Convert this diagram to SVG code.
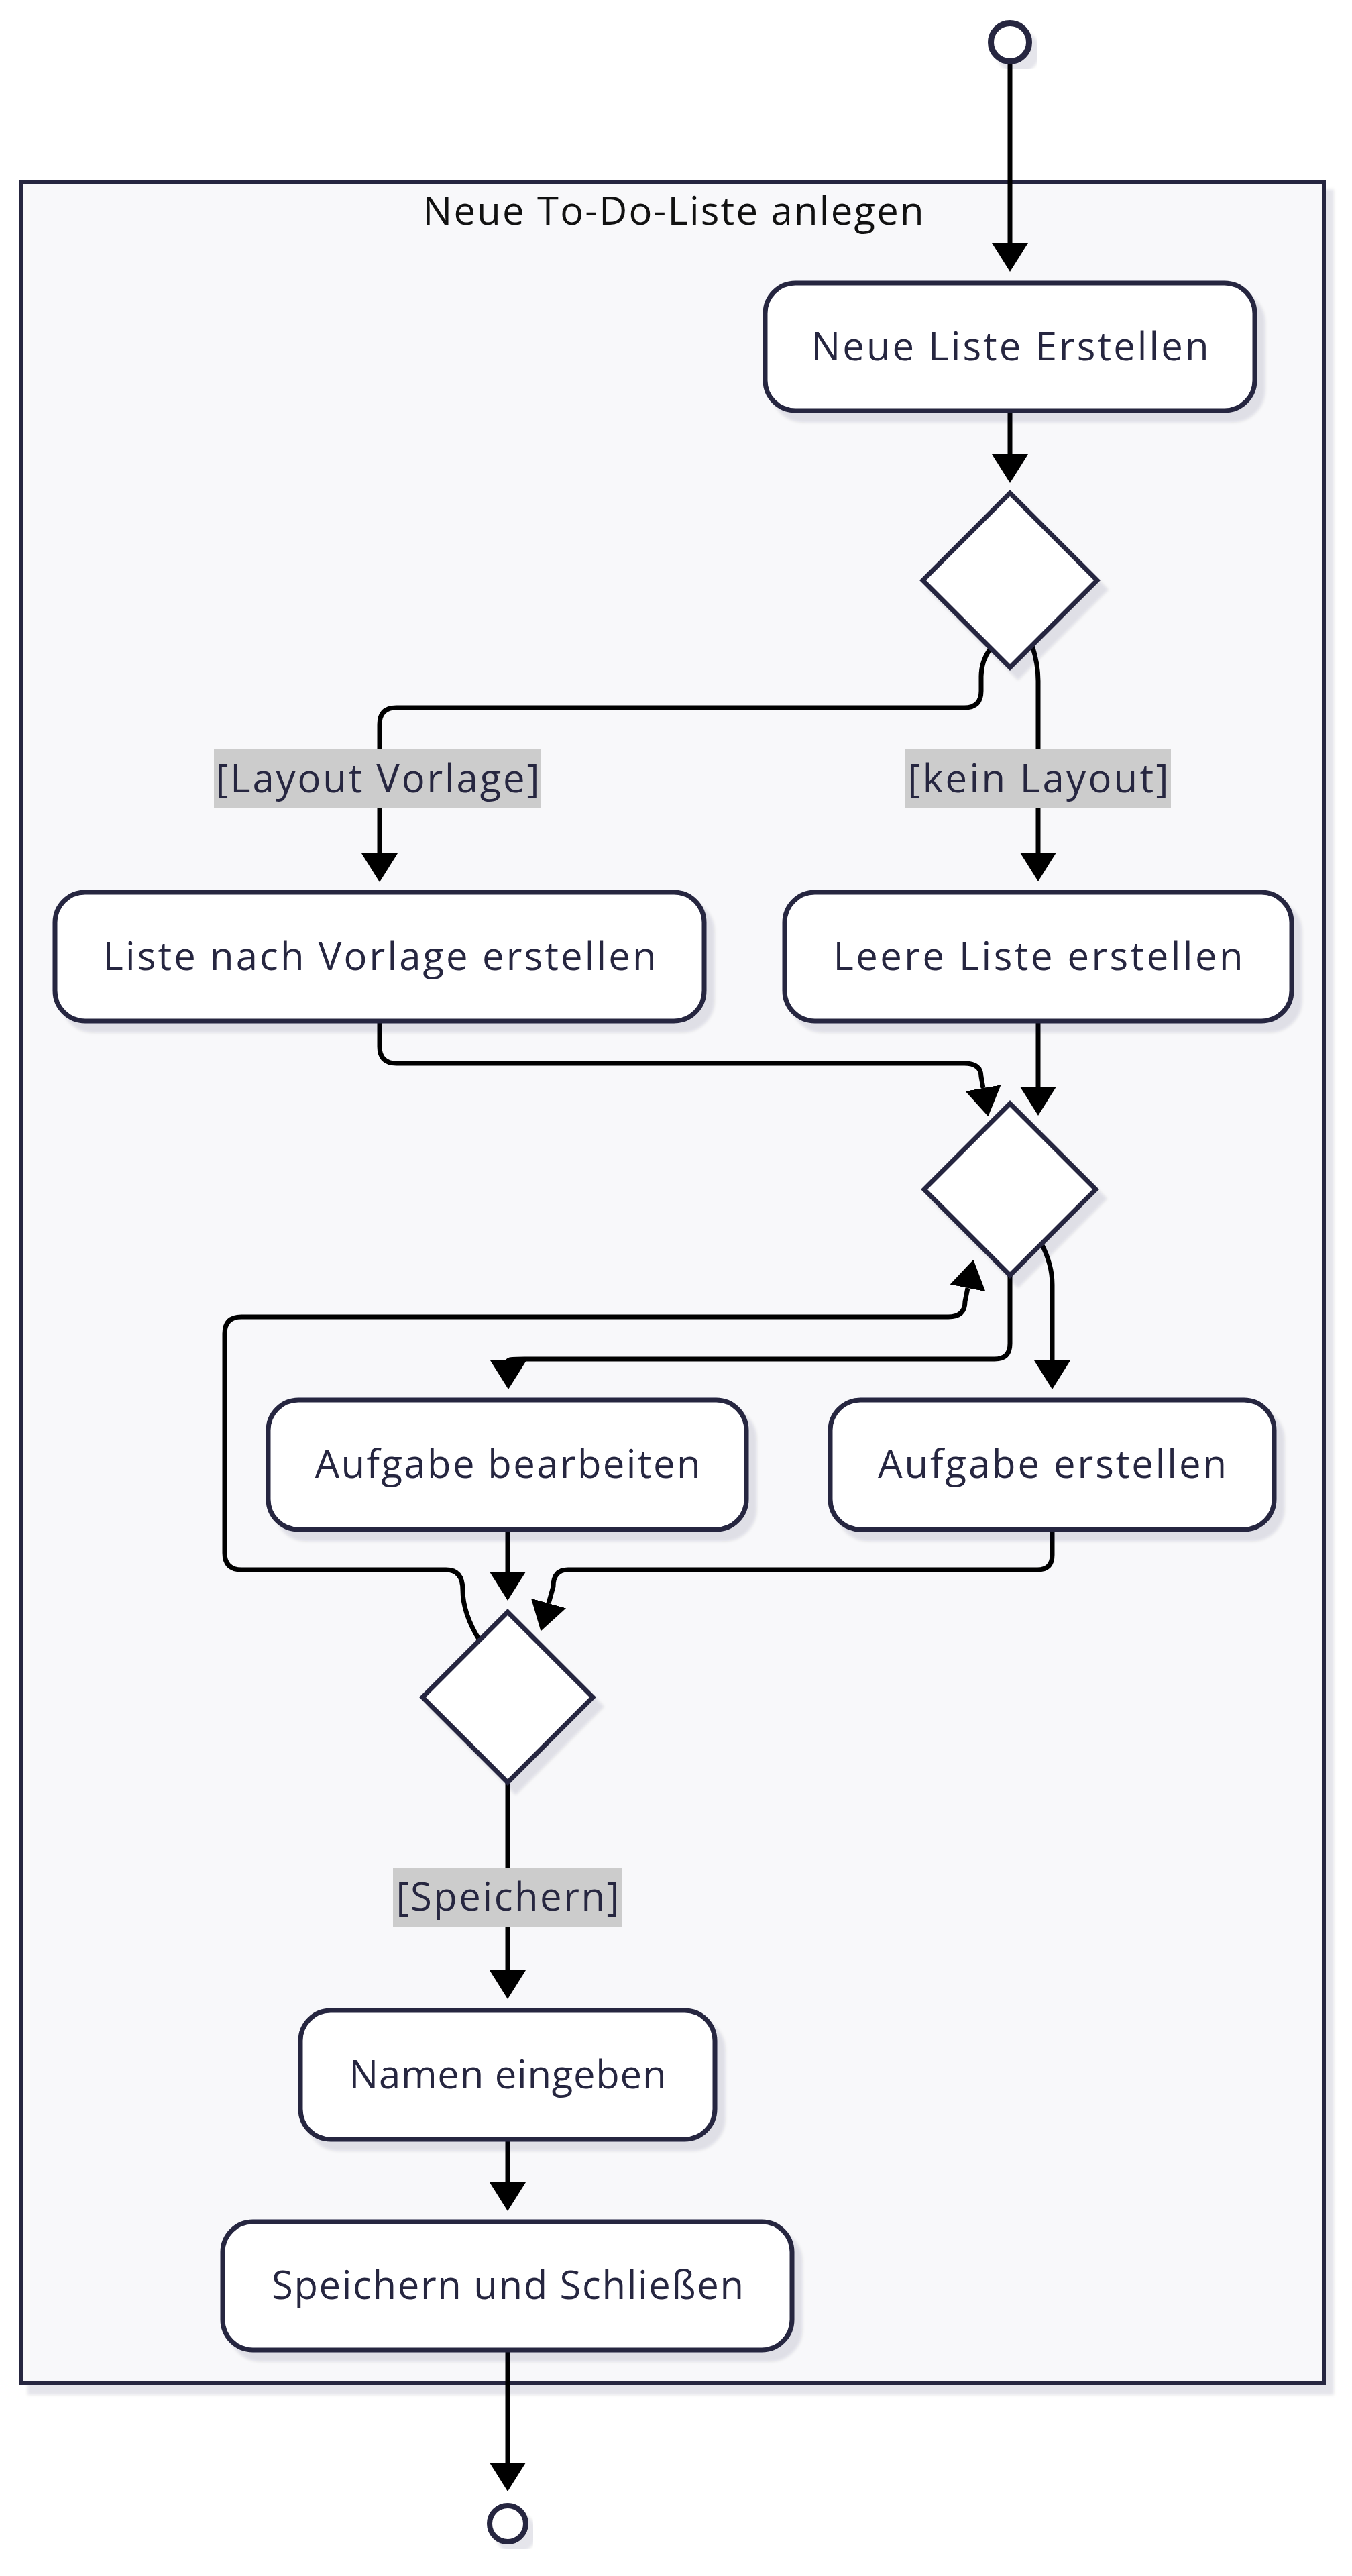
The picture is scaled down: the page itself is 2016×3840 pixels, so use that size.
<svg xmlns="http://www.w3.org/2000/svg" width="2016" height="3840" viewBox="0 0 2016 3840">
<defs>
<style>
.cl{fill:#f8f8fa;stroke:#262640;stroke-width:6}
.nd{fill:#fff;stroke:#262640;stroke-width:7}
.dm{fill:#fff;stroke:#262640;stroke-width:7}
.ed{fill:none;stroke:#000;stroke-width:7}
.tx{font-family:"Open Sans","Noto Sans",sans-serif;font-size:58px;fill:#262640;text-anchor:middle}
.tt{font-family:"Open Sans","Noto Sans",sans-serif;font-size:58px;fill:#111;text-anchor:middle}
.lb{fill:#cccccc}
</style>
<filter id="sh" x="-10%" y="-10%" width="130%" height="130%">
<feDropShadow dx="12" dy="14" stdDeviation="2" flood-color="#1e1e3c" flood-opacity="0.1"/>
</filter>
<marker id="arr" viewBox="0 0 43 54" refX="0" refY="27" markerWidth="43" markerHeight="54" markerUnits="userSpaceOnUse" orient="auto">
<path d="M0,0 L43,27 L0,54 z" fill="#000"/>
</marker>
</defs>
<rect width="2016" height="3840" fill="#fff"/>
<g id="cluster">
<rect class="cl" x="32" y="271" width="1942" height="3282" filter="url(#sh)"/>
<text class="tt" x="1004" y="335" textLength="747" lengthAdjust="spacing">Neue To-Do-Liste anlegen</text>
</g>
<g id="edges">
<path class="ed" marker-end="url(#arr)" d="M1506,96 V362"/>
<path class="ed" marker-end="url(#arr)" d="M1506,614 V677"/>
<path class="ed" marker-end="url(#arr)" d="M1539,962 Q1548,990 1548,1015 V1271"/>
<path class="ed" marker-end="url(#arr)" d="M1478,965 Q1463,985 1463,1008 V1030 Q1463,1055 1438,1055 H591 Q566,1055 566,1080 V1272"/>
<path class="ed" marker-end="url(#arr)" d="M566,1524 V1560 Q566,1585 591,1585 H1438 Q1463,1585 1463,1605 L1466,1622"/>
<path class="ed" marker-end="url(#arr)" d="M1548,1524 V1620"/>
<path class="ed" marker-end="url(#arr)" d="M1553,1854 Q1569,1885 1569,1915 V2028"/>
<path class="ed" marker-end="url(#arr)" d="M1506,1901 V2003 Q1506,2026 1483,2026 H782 Q758,2026 758,2028"/>
<path class="ed" marker-end="url(#arr)" d="M757,2282 V2343"/>
<path class="ed" marker-end="url(#arr)" d="M1569,2282 V2318 Q1569,2340 1547,2340 H847 Q825,2340 825,2365 L818,2390"/>
<path class="ed" marker-end="url(#arr)" d="M715,2445 Q690,2405 690,2370 Q690,2340 665,2340 H360 Q335,2340 335,2315 V1988 Q335,1963 360,1963 H1414 Q1439,1963 1439,1940 L1443,1920"/>
<path class="ed" marker-end="url(#arr)" d="M757,2657 V2937"/>
<path class="ed" marker-end="url(#arr)" d="M757,3191 V3253"/>
<path class="ed" marker-end="url(#arr)" d="M757,3505 V3671"/>
</g>
<g id="start">
<circle cx="1506" cy="63" r="28.5" fill="#fff" stroke="#262640" stroke-width="9" filter="url(#sh)"/>
</g>
<g id="n1">
<rect class="nd" x="1141" y="422" width="730" height="190" rx="45" filter="url(#sh)"/>
<text class="tx" x="1506" y="537" textLength="593" lengthAdjust="spacing">Neue Liste Erstellen</text>
</g>
<g id="d1">
<polygon class="dm" points="1506,735 1636,865 1506,995 1376,865" filter="url(#sh)"/>
</g>
<g id="n2">
<rect class="nd" x="82" y="1330" width="968" height="192" rx="45" filter="url(#sh)"/>
<text class="tx" x="566" y="1446" textLength="825" lengthAdjust="spacing">Liste nach Vorlage erstellen</text>
</g>
<g id="n3">
<rect class="nd" x="1170" y="1330" width="756" height="192" rx="45" filter="url(#sh)"/>
<text class="tx" x="1548" y="1446" textLength="611" lengthAdjust="spacing">Leere Liste erstellen</text>
</g>
<g id="d2">
<polygon class="dm" points="1506,1645 1634,1773 1506,1901 1378,1773" filter="url(#sh)"/>
</g>
<g id="n4">
<rect class="nd" x="400" y="2087" width="713" height="193" rx="45" filter="url(#sh)"/>
<text class="tx" x="757" y="2203" textLength="575" lengthAdjust="spacing">Aufgabe bearbeiten</text>
</g>
<g id="n5">
<rect class="nd" x="1238" y="2087" width="662" height="193" rx="45" filter="url(#sh)"/>
<text class="tx" x="1569" y="2203" textLength="520" lengthAdjust="spacing">Aufgabe erstellen</text>
</g>
<g id="d3">
<polygon class="dm" points="757,2403 884,2530 757,2657 630,2530" filter="url(#sh)"/>
</g>
<g id="n6">
<rect class="nd" x="448" y="2997" width="618" height="192" rx="45" filter="url(#sh)"/>
<text class="tx" x="757" y="3113" textLength="473" lengthAdjust="spacing">Namen eingeben</text>
</g>
<g id="n7">
<rect class="nd" x="332" y="3312" width="849" height="191" rx="45" filter="url(#sh)"/>
<text class="tx" x="757" y="3427" textLength="704" lengthAdjust="spacing">Speichern und Schließen</text>
</g>
<g id="end">
<circle cx="757" cy="3762" r="27" fill="#fff" stroke="#262640" stroke-width="8" filter="url(#sh)"/>
</g>
<g id="labels">
<rect class="lb" x="319" y="1117" width="488" height="88"/>
<text class="tx" x="563" y="1181" textLength="483" lengthAdjust="spacing">[Layout Vorlage]</text>
<rect class="lb" x="1350" y="1117" width="396" height="88"/>
<text class="tx" x="1548" y="1181" textLength="389" lengthAdjust="spacing">[kein Layout]</text>
<rect class="lb" x="586" y="2784" width="341" height="88"/>
<text class="tx" x="757" y="2848" textLength="333" lengthAdjust="spacing">[Speichern]</text>
</g>
</svg>
